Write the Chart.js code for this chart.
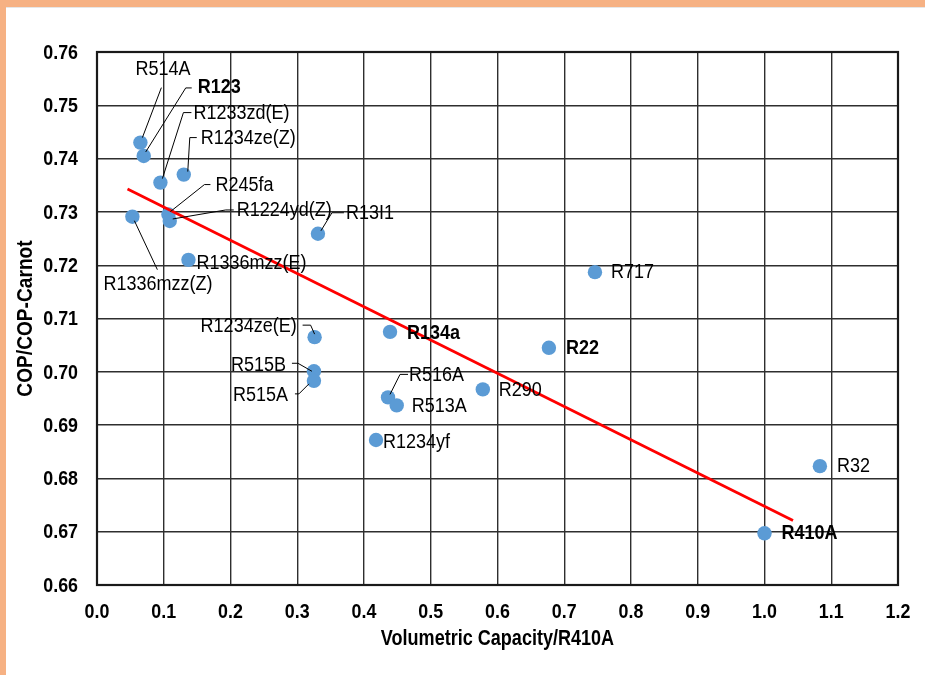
<!DOCTYPE html>
<html>
<head>
<meta charset="utf-8">
<script src="https://cdn.jsdelivr.net/npm/chart.js@4.4.1/dist/chart.umd.min.js"></script>
<style>
html,body{margin:0;padding:0;background:#fff;}
canvas{display:block;}
</style>
</head>
<body>
<canvas id="c" width="925" height="675"></canvas>
<script>
// ---- data ----
const categories = ['R514A','R123','R1233zd(E)','R1234ze(Z)','R245fa','R1224yd(Z)','R13I1','R1336mzz(E)','R1336mzz(Z)','R717','R1234ze(E)','R134a','R22','R515B','R515A','R516A','R513A','R290','R1234yf','R32','R410A'];
const capacity = [0.065,0.070,0.095,0.130,0.107,0.109,0.331,0.137,0.053,0.746,0.326,0.439,0.677,0.325,0.325,0.436,0.449,0.578,0.418,1.083,1.000];
const copRatio = [0.7430,0.7405,0.7355,0.7370,0.7295,0.7283,0.7259,0.7210,0.7291,0.7187,0.7065,0.7075,0.7045,0.7001,0.6983,0.6952,0.6937,0.6967,0.6872,0.6823,0.6697];
const trendX = [0.0457, 1.0427];
const trendY = [0.7343, 0.6721];
const xTickLabels = ['0.0','0.1','0.2','0.3','0.4','0.5','0.6','0.7','0.8','0.9','1.0','1.1','1.2'];
const yTickLabels = ['0.66','0.67','0.68','0.69','0.70','0.71','0.72','0.73','0.74','0.75','0.76'];
const xTitle = 'Volumetric Capacity/R410A';
const yTitle = 'COP/COP-Carnot';

// ---- label styling / placement (pixel offsets from the point) ----
const boldLabels = ['R123','R134a','R22','R410A'];
const labelLayout = {
  'R514A':      {dx:-5,  dy:-73, leader:[[21,-55],[2,-5]]},
  'R123':       {dx:54,  dy:-68, leader:[[48,-68],[42,-68],[2,-4]]},
  'R1233zd(E)': {dx:33,  dy:-69, leader:[[31,-70],[23,-70],[2,-4]]},
  'R1234ze(Z)': {dx:17,  dy:-36, leader:[[13,-37],[6,-37],[4,-3]]},
  'R245fa':     {dx:47,  dy:-29, leader:[[42,-30],[36,-30],[2,-3]]},
  'R1224yd(Z)': {dx:67,  dy:-10, leader:[[64,-11],[56,-11],[3,-2]]},
  'R13I1':      {dx:28,  dy:-20, leader:[[26,-21],[14,-21],[3,-3]]},
  'R1336mzz(E)':{dx:8,   dy:4},
  'R1336mzz(Z)':{dx:-29, dy:68,  leader:[[25,53],[2,4]]},
  'R717':       {dx:16,  dy:0},
  'R1234ze(E)': {dx:-114,dy:-11, leader:[[-12,-12],[-4,-12],[0,-3]]},
  'R134a':      {dx:17,  dy:2},
  'R22':        {dx:17,  dy:1},
  'R515B':      {dx:-83, dy:-6,  leader:[[-22,-8],[-16,-8],[-2,0]]},
  'R515A':      {dx:-81, dy:15,  leader:[[-19,13],[-15,13],[-5,3]]},
  'R516A':      {dx:21,  dy:-22, leader:[[20,-23],[12,-23],[2,-3]]},
  'R513A':      {dx:15,  dy:1},
  'R290':       {dx:16,  dy:1},
  'R1234yf':    {dx:7,   dy:2},
  'R32':        {dx:17,  dy:0},
  'R410A':      {dx:17,  dy:0}
};

const FAMILY = '"Liberation Sans", Arial, sans-serif';

function drawText(ctx, text, x, y, font, align, sx, rot) {
  ctx.save();
  ctx.translate(x, y);
  if (rot) ctx.rotate(rot);
  ctx.scale(sx, 1);
  ctx.font = font;
  ctx.textAlign = align;
  ctx.textBaseline = 'middle';
  ctx.fillStyle = '#000';
  ctx.fillText(text, 0, 0);
  ctx.restore();
}

const decorPlugin = {
  id: 'decor',
  beforeDraw(chart) {
    const ctx = chart.ctx, W = chart.width, H = chart.height;
    ctx.save();
    ctx.fillStyle = '#ffffff';
    ctx.fillRect(0, 0, W, H);
    ctx.fillStyle = '#F6B183';
    ctx.fillRect(0, 0, W, 7);
    ctx.fillRect(0, 0, 6, H);
    ctx.fillStyle = '#e6e6e6';
    ctx.fillRect(6, 7, W - 6, 1);
    ctx.restore();
  },
  afterDraw(chart) {
    const ctx = chart.ctx;
    const xs = chart.scales.x, ys = chart.scales.y;
    const a = chart.chartArea;
    // plot frame
    ctx.save();
    ctx.strokeStyle = '#1a1a1a';
    ctx.lineWidth = 2.2;
    ctx.strokeRect(a.left, a.top, a.right - a.left, a.bottom - a.top);
    ctx.restore();
    // tick labels
    const tickFont = 'bold 21px ' + FAMILY;
    yTickLabels.forEach(t => {
      drawText(ctx, t, 78, ys.getPixelForValue(parseFloat(t)) + 1, tickFont, 'right', 0.85);
    });
    xTickLabels.forEach(t => {
      drawText(ctx, t, xs.getPixelForValue(parseFloat(t)), 612, tickFont, 'center', 0.85);
    });
    // axis titles
    drawText(ctx, xTitle, (a.left + a.right) / 2, 639, 'bold 22px ' + FAMILY, 'center', 0.82);
    drawText(ctx, yTitle, 26, (a.top + a.bottom) / 2, 'bold 22px ' + FAMILY, 'center', 0.87, -Math.PI / 2);
    // data labels + leaders
    categories.forEach((name, i) => {
      const px = xs.getPixelForValue(capacity[i]);
      const py = ys.getPixelForValue(copRatio[i]);
      const L = labelLayout[name];
      if (!L) return;
      if (L.leader) {
        ctx.save();
        ctx.strokeStyle = '#000';
        ctx.lineWidth = 1;
        ctx.beginPath();
        L.leader.forEach((p, k) => {
          if (k === 0) ctx.moveTo(px + p[0], py + p[1]);
          else ctx.lineTo(px + p[0], py + p[1]);
        });
        ctx.stroke();
        ctx.restore();
      }
      const bold = boldLabels.includes(name);
      drawText(ctx, name, px + L.dx, py + L.dy, (bold ? 'bold ' : '') + '20px ' + FAMILY, 'left', 0.9);
    });
  }
};

const points = categories.map((n, i) => ({x: capacity[i], y: copRatio[i]}));
const trend = trendX.map((x, i) => ({x: x, y: trendY[i]}));

new Chart(document.getElementById('c'), {
  type: 'scatter',
  data: {
    datasets: [
      {
        label: 'trend',
        data: trend,
        showLine: true,
        borderColor: '#FF0000',
        backgroundColor: '#FF0000',
        borderWidth: 2.8,
        pointRadius: 0,
        fill: false,
        order: 0
      },
      {
        label: 'refrigerants',
        data: points,
        backgroundColor: '#5B9BD5',
        borderWidth: 0,
        pointRadius: 7.2,
        pointHoverRadius: 7.2,
        order: 1
      }
    ]
  },
  options: {
    responsive: false,
    animation: false,
    events: [],
    layout: {padding: {left: 97, right: 27, top: 52, bottom: 90}},
    plugins: {legend: {display: false}, tooltip: {enabled: false}},
    scales: {
      x: {
        type: 'linear', min: 0, max: 1.2,
        ticks: {stepSize: 0.1, display: false},
        grid: {color: '#2e2e2e', lineWidth: 1.4, drawTicks: false},
        border: {display: false}
      },
      y: {
        type: 'linear', min: 0.66, max: 0.76,
        ticks: {stepSize: 0.01, display: false},
        grid: {color: '#2e2e2e', lineWidth: 1.4, drawTicks: false},
        border: {display: false}
      }
    }
  },
  plugins: [decorPlugin]
});
</script>
</body>
</html>
